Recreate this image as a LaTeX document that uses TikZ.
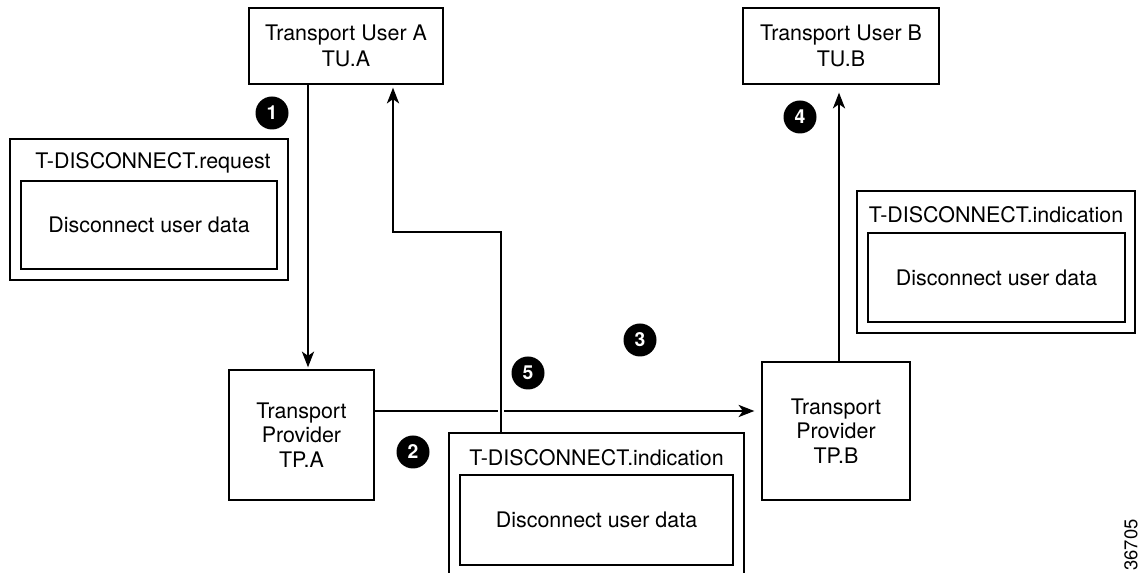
\documentclass[tikz,border=0pt]{standalone}
\usepackage{fontspec}
\setmainfont{TeX Gyre Heros}
\usetikzlibrary{arrows.meta}
\newcommand{\px}{0.02cm}
\tikzset{
  box/.style={draw, line width=0.8pt, inner sep=0pt, align=center, font=\fontsize{12.2}{14}\selectfont},
  frame/.style={draw, line width=0.8pt, inner sep=0pt},
  txt/.style={inner sep=0pt, font=\fontsize{12.2}{14}\selectfont},
  callout/.style={circle, fill=black, text=white, inner sep=0pt, minimum size=33*\px, font=\bfseries\fontsize{11}{11}\selectfont},
  link/.style={line width=0.8pt},
  arrow/.style={line width=0.8pt, -{Stealth[length=9pt,width=7pt,inset=2.5pt]}},
}

\begin{document}
\begin{tikzpicture}[x=\px, y=-\px]
\useasboundingbox (0,0) rectangle (1139,573);

%users and providers
\node[box, minimum width=194*\px, minimum height=76*\px, font=\fontsize{12.2}{14.8}\selectfont] (TUA) at (346,46) {Transport User A\\TU.A};
\node[box, minimum width=196*\px, minimum height=76*\px, font=\fontsize{12.2}{14.8}\selectfont] (TUB) at (841,46) {Transport User B\\TU.B};
\node[box, minimum width=145*\px, minimum height=130*\px] (TPA) at (301.5,435) {Transport\\Provider\\TP.A};
\node[box, minimum width=148*\px, minimum height=138*\px] (TPB) at (836,431) {Transport\\Provider\\TP.B};

%primitives
\node[frame, minimum width=278*\px, minimum height=141*\px] (req) at (149,209.5) {};
\node[txt] (reqT) at (153,163) {T-DISCONNECT.request};
\node[box, minimum width=256*\px, minimum height=88*\px] (reqD) at (149,225) {Disconnect user data};

\node[frame, minimum width=278*\px, minimum height=142*\px] (indB) at (996,262) {};
\node[txt] (indBT) at (996,215) {T-DISCONNECT.indication};
\node[box, minimum width=257*\px, minimum height=89*\px] (indBD) at (996.5,277.5) {Disconnect user data};

\node[frame, minimum width=295*\px, minimum height=150*\px] (indA) at (596.5,508) {};
\node[txt] (indAT) at (596.5,458) {T-DISCONNECT.indication};
\node[box, minimum width=273*\px, minimum height=90*\px] (indAD) at (596.5,520) {Disconnect user data};

%steps
\node[callout] (s1) at (272,113) {1};
\node[callout] (s2) at (413,452) {2};
\node[callout] (s3) at (640,340) {3};
\node[callout] (s4) at (800,117) {4};
\node[callout] (s5) at (528,373) {5};

%flows
\coordinate (a1) at (308,0);
\coordinate (a4) at (839,0);
\coordinate (h) at (0,411);
\coordinate (gapL) at (498,411);
\coordinate (gapR) at (504,411);
\coordinate (cross) at (501,232);
\coordinate (bend) at (393,232);
\draw[arrow, shorten >=0.04cm] (TUA.south -| a1) -- (TPA.north -| a1);
\draw[link] (TPA.east |- h) -- (gapL);
\draw[arrow, shorten >=0.14cm] (gapR) -- (TPB.west |- h);
\draw[arrow, shorten >=0.16cm] (TPB.north -| a4) -- (TUB.south -| a4);
\draw[arrow, shorten >=0.06cm] (indA.north -| cross) -- (cross) -- (bend) -- (TUA.south -| bend);

%figure number
\node[txt, rotate=90, font=\fontsize{10.5}{10.5}\selectfont] (fig) at (1131,545) {36705};
\end{tikzpicture}
\end{document}
